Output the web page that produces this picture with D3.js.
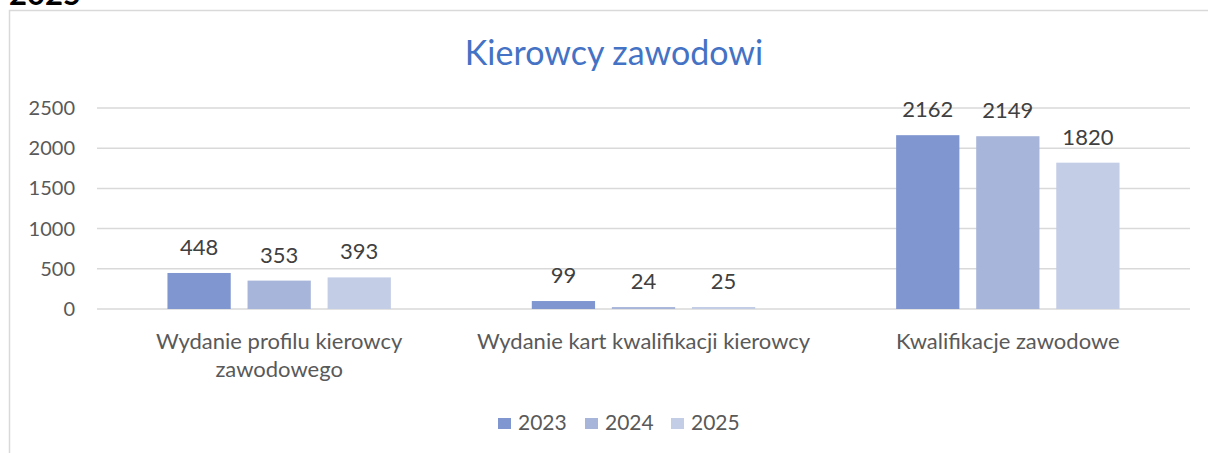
<!DOCTYPE html>
<html lang="pl">
<head>
    <meta charset="UTF-8">
    <title>Kierowcy zawodowi</title>
    <script src="https://d3js.org/d3.v7.min.js"></script>
    <style>
        body {
            margin: 0;
            background: white;
            overflow: hidden;
        }
        svg text {
            font-family: Lato, "Open Sans", sans-serif;
        }
        .grid line {
            stroke: #d9d9d9;
            stroke-width: 1.5;
        }
        .tick-label, .cat-label, .legend text {
            fill: #595959;
        }
        .value {
            fill: #404040;
        }
    </style>
</head>
<body>
    <div id="chart"></div>
    <script>
        // data
        const categories = [
            ['Wydanie profilu kierowcy', 'zawodowego'],
            ['Wydanie kart kwalifikacji kierowcy'],
            ['Kwalifikacje zawodowe']
        ]
        const years = ['2023', '2024', '2025']
        const values2023 = [448, 99, 2162]
        const values2024 = [353, 24, 2149]
        const values2025 = [393, 25, 1820]
        const yTicks = [0, 500, 1000, 1500, 2000, 2500]
        const colors = ['#7f96d0', '#a7b5db', '#c3cde6']

        const WIDTH = 1208
        const HEIGHT = 453

        const series = [values2023, values2024, values2025]
        const rows = categories.map((c, i) => ({
            key: i,
            label: c,
            values: years.map((y, j) => ({ year: y, value: series[j][i], color: colors[j] }))
        }))

        const svg = d3.select('#chart')
            .append('svg')
            .attr('width', WIDTH)
            .attr('height', HEIGHT)

        // chart frame (cut off on the right and bottom like the screenshot)
        svg.append('rect')
            .attr('x', 9.5).attr('y', 10.5)
            .attr('width', 1230).attr('height', 480)
            .attr('fill', 'white')
            .attr('stroke', '#d9d9d9')
            .attr('stroke-width', 1.5)

        // leftover heading above the chart, mostly cut off at the top
        svg.append('text')
            .attr('x', 9).attr('y', 5)
            .attr('font-size', 31).attr('font-weight', 'bold')
            .attr('fill', '#000')
            .text('2025')

        svg.append('text')
            .attr('x', 614).attr('y', 65)
            .attr('text-anchor', 'middle')
            .attr('font-size', 34)
            .attr('fill', '#4472c4')
            .text('Kierowcy zawodowi')

        const y = d3.scaleLinear().domain([0, 2500]).range([309, 108])
        const x0 = d3.scaleBand().domain(rows.map(r => r.key)).range([97, 1190])
        const x1 = d3.scaleBand().domain(years).range([0, x0.bandwidth()])
            .paddingInner(0.21).paddingOuter(0.88)

        // grid + y labels
        const grid = svg.append('g').attr('class', 'grid')
        grid.selectAll('line')
            .data(yTicks).enter()
            .append('line')
            .attr('x1', 97).attr('x2', 1190)
            .attr('y1', d => y(d)).attr('y2', d => y(d))

        svg.selectAll('.tick-label')
            .data(yTicks).enter()
            .append('text').attr('class', 'tick-label')
            .attr('x', 75)
            .attr('y', d => y(d) + 7)
            .attr('text-anchor', 'end')
            .attr('font-size', 20)
            .text(d => d)

        // bars
        const groups = svg.selectAll('.group')
            .data(rows).enter()
            .append('g').attr('class', 'group')
            .attr('transform', d => `translate(${x0(d.key)},0)`)

        groups.selectAll('rect')
            .data(d => d.values).enter()
            .append('rect')
            .attr('x', d => x1(d.year))
            .attr('width', x1.bandwidth())
            .attr('y', d => y(d.value))
            .attr('height', d => y(0) - y(d.value))
            .attr('fill', d => d.color)

        groups.selectAll('.value')
            .data(d => d.values).enter()
            .append('text').attr('class', 'value')
            .attr('x', d => x1(d.year) + x1.bandwidth() / 2)
            .attr('y', d => y(d.value) - 18)
            .attr('text-anchor', 'middle')
            .attr('font-size', 22)
            .text(d => d.value)

        // category labels
        groups.append('text').attr('class', 'cat-label')
            .attr('text-anchor', 'middle')
            .attr('font-size', 22)
            .selectAll('tspan')
            .data(d => d.label).enter()
            .append('tspan')
            .attr('x', x0.bandwidth() / 2)
            .attr('y', (d, i) => 349 + i * 28)
            .text(d => d)

        // legend
        const legendX = [498, 585, 671]
        const legend = svg.append('g').attr('class', 'legend')
        const items = legend.selectAll('g')
            .data(years).enter()
            .append('g')
            .attr('transform', (d, i) => `translate(${legendX[i]},0)`)
        items.append('rect')
            .attr('x', 0).attr('y', 418)
            .attr('width', 13).attr('height', 11)
            .attr('fill', (d, i) => colors[i])
        items.append('text')
            .attr('x', 20).attr('y', 430)
            .attr('font-size', 21)
            .text(d => d)
    </script>
</body>
</html>
